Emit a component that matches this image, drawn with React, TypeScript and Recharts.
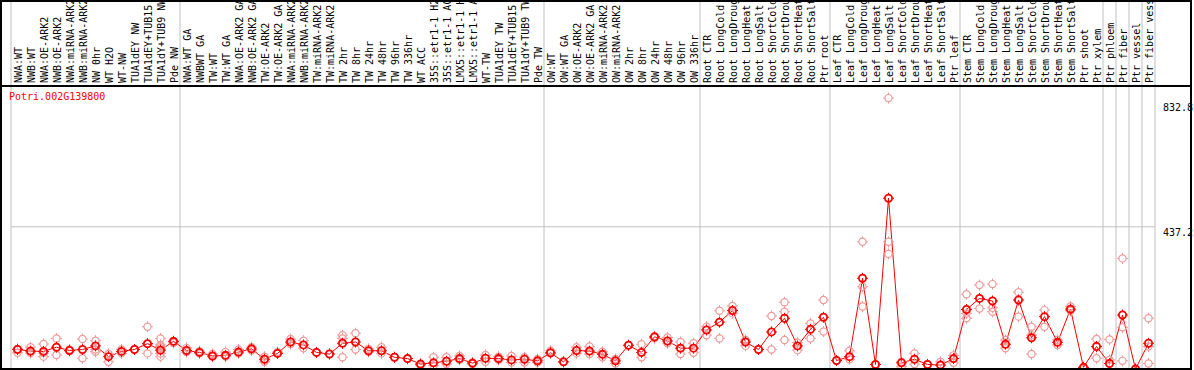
import React from 'react';
import { ComposedChart, Line, XAxis, YAxis, ReferenceLine } from 'recharts';

// sample labels, in plot order
const labels = [
  'NWA:WT', 'NWB:WT', 'NWA:OE-ARK2', 'NWB:OE-ARK2', 'NWA:miRNA-ARK2', 'NWB:miRNA-ARK2', 'NW 0hr', 'WT H2O', 'WT-NW',
  'TUA1dEY NW', 'TUA1dEY+TUB15 NW', 'TUA1dY+TUB9 NW', 'Pde NW',
  'NWA:WT GA', 'NWBWT GA', 'TW:WT', 'TW:WT GA', 'NWA:OE-ARK2 GA', 'NWB:OE-ARK2 GA', 'TW:OE-ARK2', 'TW:OE-ARK2 GA',
  'NWA:miRNA-ARK2 GA', 'NWB:miRNA-ARK2 GA', 'TW:miRNA-ARK2', 'TW:miRNA-ARK2 GA', 'TW 2hr', 'TW 8hr', 'TW 24hr', 'TW 48hr',
  'TW 96hr', 'TW 336hr', 'WT ACC', '35S::etr1-1 H2O', '35S::etr1-1 ACC', 'LMX5::etr1-1 H2O', 'LMX5::etr1-1 ACC', 'WT-TW',
  'TUA1dEY TW', 'TUA1dEY+TUB15 TW', 'TUA1dY+TUB9 TW', 'Pde TW',
  'OW:WT', 'OW:WT GA', 'OW:OE-ARK2', 'OW:OE-ARK2 GA', 'OW:miRNA-ARK2', 'OW:miRNA-ARK2 GA', 'OW 2hr', 'OW 8hr', 'OW 24hr',
  'OW 48hr', 'OW 96hr', 'OW 336hr',
  'Root CTR', 'Root LongCold', 'Root LongDrought', 'Root LongHeat', 'Root LongSalt', 'Root ShortCold', 'Root ShortDrought',
  'Root ShortHeat', 'Root ShortSalt', 'Ptr root',
  'Leaf CTR', 'Leaf LongCold', 'Leaf LongDrought', 'Leaf LongHeat', 'Leaf LongSalt', 'Leaf ShortCold', 'Leaf ShortDrought',
  'Leaf ShortHeat', 'Leaf ShortSalt', 'Ptr leaf',
  'Stem CTR', 'Stem LongCold', 'Stem LongDrought', 'Stem LongHeat', 'Stem LongSalt', 'Stem ShortCold', 'Stem ShortDrought',
  'Stem ShortHeat', 'Stem ShortSalt', 'Ptr shoot', 'Ptr xylem',
  'Ptr phloem', 'Ptr fiber', 'Ptr vessel', 'Ptr fiber vessel',
];

// mean expression per sample
const means = [
  60, 55, 54, 67, 57, 60, 71, 38, 54, 60, 78, 58, 85,
  57, 51, 40, 42, 52, 62, 30, 48, 83, 74, 51, 46, 79, 83, 56, 56, 36, 32, 15, 19, 24, 32, 18, 33, 32, 28, 30, 25,
  50, 22, 57, 55, 45, 25, 73, 51, 99, 86, 64, 64,
  120, 144, 180, 83, 60, 114, 156, 71, 122, 159,
  26, 38, 279, 14, 525, 19, 30, 14, 12, 32,
  183, 217, 209, 76, 212, 96, 161, 82, 184, 5, 69,
  17, 166, 0, 79,
];

// single replicates per sample
const replicates = [
  [62, 50], [67, 49], [77, 49, 38], [94, 43], [60, 55], [92, 33], [87, 60, 53], [46, 22], [60, 48], [60],
  [130, 77, 48], [94, 74, 69, 64, 48, 38], [85, 80],
  [65, 52], [55, 48], [46, 38], [52, 38], [60, 48], [67, 57], [38, 30, 22], [52, 48], [92, 77], [87, 64], [51], [46],
  [104, 94, 36], [110, 60], [62, 53], [67, 48], [36], [32], [15, 10], [36, 10], [36, 15], [40, 28], [20, 15], [43, 22],
  [38, 28], [40, 20], [36, 20], [30, 20],
  [56, 48], [22], [67, 48], [69, 46], [53, 36], [31, 17], [73], [76, 36], [97, 95], [97, 79], [83, 46], [79, 50],
  [130, 104], [179, 94], [194, 171], [89, 71], [60], [163, 60], [205, 176, 89], [81, 58], [140, 94], [212, 115],
  [26], [56, 30], [391, 253, 192], [14], [832.8, 391, 354], [22, 7], [48, 15], [14], [22, 12], [42, 19],
  [230, 171, 156], [258, 186], [261, 188, 176], [89, 64], [236, 161], [130, 104, 46], [181, 130], [89, 74], [192, 179],
  [5], [92, 33],
  [91, 28], [340, 128, 25], [0], [156, 69, 17],
];

const groupStarts = [
  'NWA:WT', 'NWA:WT GA', 'OW:WT', 'Root CTR', 'Leaf CTR', 'Stem CTR',
  'Ptr phloem', 'Ptr fiber', 'Ptr vessel', 'Ptr fiber vessel',
];
const yTicks = [0, 437.2, 832.8];
const geneName = 'Potri.002G139800';

const W = 1194;
const H = 370;
const LABEL_H = 86;
const M_LEFT = 11;
const M_RIGHT = 3;
const Y_AXIS_W = 36;
const Y_MAX = 870;
const MONO = '"DejaVu Sans Mono", monospace';
const RED = '#ff0000';
const PINK = '#ef9a9a';
const GREY = '#c0c0c0';

// each sample gets one slot of the plot width
const slot = (W - M_LEFT - M_RIGHT - Y_AXIS_W) / labels.length;

const maxReps = Math.max(...replicates.map((r) => r.length));
const repKeys = Array.from({ length: maxReps }, (_, i) => `r${i}`);

const data = labels.map((name, i) => {
  const row: Record<string, any> = { name, mean: means[i] };
  replicates[i].forEach((v, j) => { row[`r${j}`] = v; });
  return row;
});

// value that lands on the very top of the label strip
const stripTop = (Y_MAX * (H - 1)) / (H - 1 - LABEL_H);

const Marker = ({ cx, cy, color, sw }: { cx: number; cy: number; color: string; sw: number }) => (
  <g>
    <circle cx={cx} cy={cy} r={3.6} fill="none" stroke={color} strokeWidth={sw} />
    <path
      d={`M${cx - 5.5},${cy}h2M${cx + 3.5},${cy}h2M${cx},${cy - 5.5}v2M${cx},${cy + 3.5}v2`}
      stroke={color}
      strokeWidth={1}
    />
  </g>
);

const makeDot = (color: string, sw: number, tag: string) => (props: any) => {
  const { cx, cy, index, value } = props;
  if (cy == null || value == null || isNaN(cy)) return <g key={`${tag}-${index}`} />;
  return (
    <g key={`${tag}-${index}`}>
      <Marker cx={cx} cy={cy} color={color} sw={sw} />
    </g>
  );
};

// separator sits on the slot edge, half a slot from the sample point
const edgeLine = (shift: number) => (p: any) => (
  <line x1={p.x1 + shift} y1={p.y1} x2={p.x2 + shift} y2={p.y2} stroke={GREY} strokeWidth={1} />
);

const SampleTick = (props: any) => {
  const { x, payload } = props;
  return (
    <text
      transform={`translate(${x + 4},${LABEL_H - 3}) rotate(-90)`}
      fontFamily={MONO}
      fontSize={10}
      fill="#000"
      textAnchor="start"
    >
      {payload.value}
    </text>
  );
};

const yLabelDy: Record<number, number> = { 0: -4, 437.2: 9, 832.8: 13 };

const ValueTick = (props: any) => {
  const { x, y, payload } = props;
  return (
    <text x={x} y={y} dy={yLabelDy[payload.value] ?? 4} fontFamily={MONO} fontSize={10} fill="#000" textAnchor="start">
      {payload.value}
    </text>
  );
};

export default function App() {
  const last = labels[labels.length - 1];
  return (
    <div style={{ position: 'relative', width: W, height: H, background: '#fff', overflow: 'hidden' }}>
      <style>{'body{margin:0}'}</style>
      <ComposedChart width={W} height={H} data={data} margin={{ top: 0, right: M_RIGHT, bottom: 1, left: M_LEFT }}>
        <XAxis
          dataKey="name"
          orientation="top"
          height={LABEL_H}
          interval={0}
          padding={{ left: slot / 2, right: slot / 2 }}
          tickLine={false}
          axisLine={false}
          tick={SampleTick}
        />
        <YAxis
          orientation="right"
          width={Y_AXIS_W}
          type="number"
          domain={[0, Y_MAX]}
          ticks={yTicks}
          tickLine={false}
          axisLine={false}
          tick={ValueTick}
        />
        <ReferenceLine y={437.2} stroke={GREY} strokeWidth={1} />
        {groupStarts.map((g) => (
          <ReferenceLine
            key={g}
            segment={[{ x: g, y: 0 }, { x: g, y: stripTop }]}
            ifOverflow="visible"
            shape={edgeLine(-slot / 2)}
          />
        ))}
        <ReferenceLine
          segment={[{ x: last, y: 0 }, { x: last, y: stripTop }]}
          ifOverflow="visible"
          shape={edgeLine(slot / 2)}
        />
        {repKeys.map((k) => (
          <Line
            key={k}
            dataKey={k}
            stroke="none"
            isAnimationActive={false}
            activeDot={false}
            dot={makeDot(PINK, 1.2, k)}
            connectNulls={false}
          />
        ))}
        <Line
          dataKey="mean"
          stroke={RED}
          strokeWidth={1}
          isAnimationActive={false}
          activeDot={false}
          dot={makeDot(RED, 1.8, 'mean')}
        />
      </ComposedChart>
      <div
        style={{
          position: 'absolute', left: 0, top: 0, width: 1192, height: H,
          border: '2px solid #000', boxSizing: 'border-box', pointerEvents: 'none',
        }}
      />
      <div style={{ position: 'absolute', left: 0, top: LABEL_H - 1, width: 1192, height: 2, background: '#000' }} />
      <div style={{ position: 'absolute', left: 9, top: 91, color: RED, font: `10px ${MONO}`, whiteSpace: 'nowrap' }}>
        {geneName}
      </div>
    </div>
  );
}
